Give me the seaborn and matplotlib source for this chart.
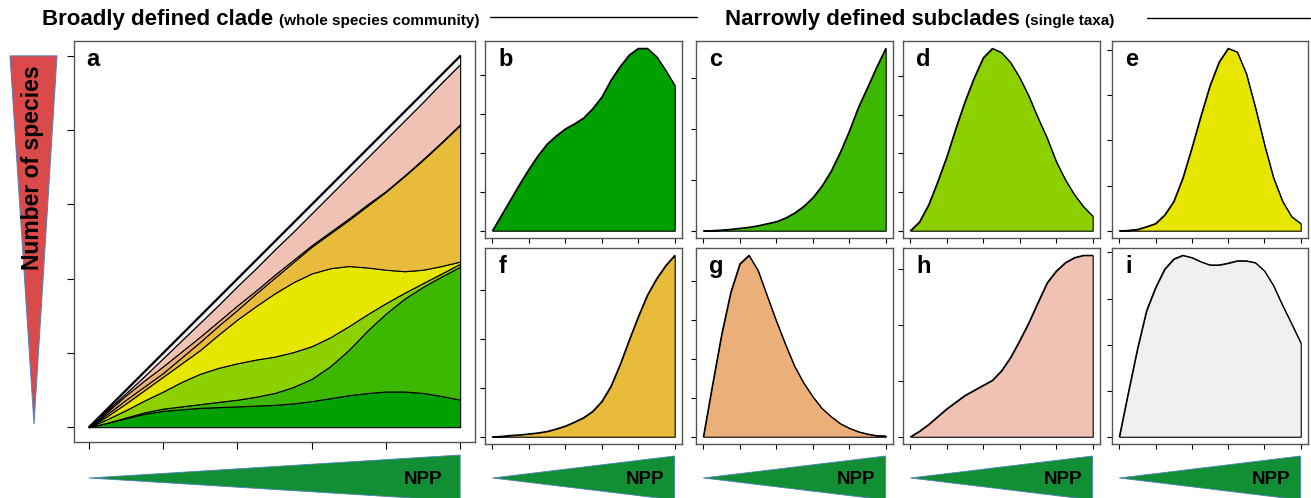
import matplotlib
matplotlib.use("Agg")
import matplotlib.pyplot as plt
import seaborn as sns
from matplotlib.patches import Polygon
from matplotlib.lines import Line2D
from matplotlib.transforms import blended_transform_factory

sns.set_style("ticks")
plt.rcParams["font.family"] = ["Liberation Sans", "DejaVu Sans"]
plt.rcParams["text.color"] = "black"
plt.rcParams["lines.solid_joinstyle"] = "round"

# productivity gradient (NPP), shared x positions for every panel
npp = [0.0, 0.25, 0.5, 0.75, 1.0, 1.25, 1.5, 1.75, 2.0, 2.25, 2.5,
       2.75, 3.0, 3.25, 3.5, 3.75, 4.0, 4.25, 4.5, 4.75, 5.0]

# panel a: contribution of each subclade to total species richness
layer_b = [0, .06, .12, .18, .22, .24, .26, .27, .28, .29, .30, .32, .35, .39, .43, .46, .48, .48, .46, .42, .37]
layer_c = [0, 0, .01, .02, .03, .04, .05, .07, .09, .12, .16, .22, .30, .43, .61, .84, 1.05, 1.25, 1.43, 1.61, 1.79]
layer_d = [0, .05, .10, .16, .23, .33, .41, .46, .49, .50, .49, .47, .44, .39, .32, .22, .14, .08, .05, .04, .04]
layer_e = [0, .04, .09, .14, .20, .25, .32, .45, .59, .72, .85, .94, .98, .93, .81, .63, .45, .29, .18, .10, .03]
layer_f = [0, .03, .05, .05, .05, .08, .11, .12, .13, .17, .21, .27, .36, .47, .62, .83, 1.05, 1.28, 1.48, 1.66, 1.84]
layer_g = [0, .03, .06, .08, .09, .08, .07, .06, .06, .04, .04, .03, .02, .02, .02, .02, .01, .01, .01, .01, .01]
layer_h = [0, .02, .03, .06, .11, .15, .19, .22, .26, .30, .34, .38, .43, .50, .57, .63, .70, .74, .77, .80, .81]
layer_i = [0, .02, .04, .06, .07, .08, .09, .10, .10, .11, .11, .12, .12, .12, .12, .12, .12, .12, .12, .11, .11]

# panels b-i: richness of single taxa along the gradient
curve_b = [0, .40, .80, 1.20, 1.58, 1.93, 2.23, 2.44, 2.62, 2.75, 2.90, 3.14, 3.44, 3.87, 4.22, 4.52, 4.69, 4.69, 4.48, 4.13, 3.74]
curve_c = [0, .005, .015, .03, .05, .07, .10, .14, .18, .25, .35, .48, .65, .88, 1.17, 1.54, 1.96, 2.43, 2.82, 3.22, 3.59]
curve_d = [0, .23, .67, 1.27, 1.92, 2.66, 3.35, 3.96, 4.48, 4.72, 4.61, 4.35, 3.96, 3.48, 2.92, 2.40, 1.79, 1.32, .93, .62, .38]
curve_e = [0, .01, .03, .09, .16, .35, .65, 1.17, 1.84, 2.55, 3.22, 3.74, 4.04, 3.96, 3.48, 2.73, 1.91, 1.17, .65, .31, .16]
curve_f = [0, .01, .03, .04, .06, .08, .11, .16, .22, .30, .39, .52, .72, 1.03, 1.47, 1.97, 2.45, 2.89, 3.22, 3.49, 3.70]
curve_g = [0, 1.33, 2.62, 3.70, 4.43, 4.65, 4.26, 3.61, 2.97, 2.37, 1.81, 1.38, 1.03, .73, .52, .34, .22, .13, .07, .03, .02]
curve_h = [0, .10, .22, .36, .50, .62, .74, .83, .92, 1.01, 1.18, 1.42, 1.72, 2.04, 2.40, 2.75, 2.96, 3.11, 3.20, 3.24, 3.24]
curve_i = [0, .97, 1.91, 2.74, 3.24, 3.64, 3.86, 3.94, 3.89, 3.80, 3.73, 3.73, 3.77, 3.82, 3.82, 3.78, 3.60, 3.28, 2.85, 2.45, 2.04]

panel_letters = ["b", "c", "d", "e", "f", "g", "h", "i"]
panel_curves = [curve_b, curve_c, curve_d, curve_e, curve_f, curve_g, curve_h, curve_i]
panel_yticks = [5, 4, 5, 5, 4, 5, 4, 5]
taxon_colors = ["#00A000", "#3DB800", "#8CD000", "#E6E600",
                "#E8BC3A", "#EBB079", "#EFC2B3", "#F0F0F0"]

W, H = 1311, 498
fig = plt.figure(figsize=(W / 100, H / 100), dpi=100)


def px_axes(left, top, right, bottom):
    return fig.add_axes([left / W, 1 - bottom / H, (right - left) / W, (bottom - top) / H])


def style_axes(ax, n_yticks, ticklen):
    ax.set_xticks(range(6))
    ax.set_yticks(range(n_yticks))
    ax.set_xticklabels([])
    ax.set_yticklabels([])
    ax.set_xlabel("")
    ax.set_ylabel("")
    ax.tick_params(direction="out", length=ticklen, width=0.8, color="black")
    for sp in ax.spines.values():
        sp.set_visible(True)
        sp.set_color("#555555")
        sp.set_linewidth(1.0)


def npp_wedge(ax, top_px, bot_px, tip_px, text_x):
    tr = blended_transform_factory(ax.transData, fig.transFigure)
    tri = Polygon([(0, 1 - tip_px / H), (5, 1 - top_px / H), (5, 1 - bot_px / H)],
                  closed=True, facecolor="#128F35", edgecolor="#4F81BD",
                  linewidth=0.6, transform=tr, clip_on=False)
    fig.add_artist(tri)
    fig.text(text_x, 1 - 484 / H, "NPP", transform=tr, ha="right", va="baseline",
             fontsize=13.5, fontweight="bold", color="black")


# ---- panel a: stacked community richness ----
ax_a = px_axes(74, 41, 475, 442)
layers = [layer_b, layer_c, layer_d, layer_e, layer_f, layer_g, layer_h, layer_i]
ax_a.stackplot(npp, *layers, colors=taxon_colors, edgecolor="black", linewidth=0.8)
total = [sum(v) for v in zip(*layers)]
sns.lineplot(x=npp, y=total, color="black", linewidth=1.4, ax=ax_a)
ax_a.set_xlim(-0.2, 5.2)
ax_a.set_ylim(-0.2, 5.2)
style_axes(ax_a, 6, 5)
ax_a.annotate("a", xy=(0, 1), xycoords="axes fraction", xytext=(8.5, -5),
              textcoords="offset points", ha="left", va="top",
              fontsize=17, fontweight="bold", color="black")

# ---- panels b-i: single taxa ----
cols = [(485, 682), (696, 893), (903, 1100), (1112, 1308)]
rows = [(41, 238), (248, 444)]
small_axes = []
for k, (letter, vals, nyt, col) in enumerate(zip(panel_letters, panel_curves,
                                                  panel_yticks, taxon_colors)):
    left, right = cols[k % 4]
    top, bottom = rows[k // 4]
    ax = px_axes(left, top, right, bottom)
    ax.fill_between(npp, vals, 0, facecolor=col, edgecolor="black", linewidth=0.8)
    sns.lineplot(x=npp, y=vals, color="black", linewidth=0.8, ax=ax)
    ymax = max(vals)
    ax.set_xlim(-0.2, 5.2)
    ax.set_ylim(-0.04 * ymax, 1.04 * ymax)
    style_axes(ax, nyt, 3.6)
    ax.annotate(letter, xy=(0, 1), xycoords="axes fraction", xytext=(9.5, -5),
                textcoords="offset points", ha="left", va="top",
                fontsize=17, fontweight="bold", color="black")
    small_axes.append(ax)

# ---- NPP wedges under each column ----
npp_wedge(ax_a, 455, 501, 478, 4.76)
for ax in small_axes[4:]:
    npp_wedge(ax, 456, 500, 478, 4.70)

# ---- species-richness wedge on the left ----
tr_red = blended_transform_factory(fig.transFigure, ax_a.transData)
red = Polygon([(10 / W, 5.0), (57 / W, 5.0), (34 / W, 0.04)], closed=True,
              facecolor="#DB4A4A", edgecolor="#4F81BD", linewidth=0.7,
              transform=tr_red, clip_on=False)
fig.add_artist(red)
fig.text(33 / W, 1 - 168 / H, "Number of species", rotation=90, ha="center",
         va="center", fontsize=16.5, fontweight="bold", color="black")

# ---- header titles ----
fig.text(42 / W, 1 - 25 / H, "Broadly defined clade", ha="left", va="baseline",
         fontsize=16, fontweight="bold", color="black")
fig.text(279 / W, 1 - 25 / H, "(whole species community)", ha="left", va="baseline",
         fontsize=11, fontweight="bold", color="black")
fig.add_artist(Line2D([490 / W, 697 / W], [1 - 17 / H] * 2, color="black", linewidth=1))
fig.text(725 / W, 1 - 25 / H, "Narrowly defined subclades", ha="left", va="baseline",
         fontsize=16, fontweight="bold", color="black")
fig.text(1025 / W, 1 - 25 / H, "(single taxa)", ha="left", va="baseline",
         fontsize=11, fontweight="bold", color="black")
fig.add_artist(Line2D([1147 / W, 1310 / W], [1 - 18 / H] * 2, color="black", linewidth=1))

fig.savefig("out.png", dpi=100)
